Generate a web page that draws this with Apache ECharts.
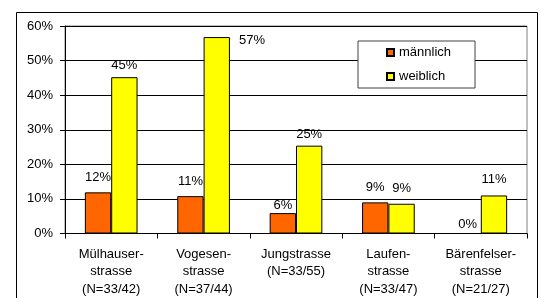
<!DOCTYPE html>
<html>
<head>
<meta charset="utf-8">
<script src="https://cdn.jsdelivr.net/npm/echarts@6/dist/echarts.min.js"></script>
<style>
  html, body { margin: 0; padding: 0; background: #fff; }
  #chart { width: 541px; height: 298px; }
</style>
</head>
<body>
<div id="chart"></div>
<script>
var strassen = [
  'Mülhauser-\nstrasse\n(N=33/42)',
  'Vogesen-\nstrasse\n(N=37/44)',
  'Jungstrasse\n(N=33/55)',
  'Laufen-\nstrasse\n(N=33/47)',
  'Bärenfelser-\nstrasse\n(N=21/27)'
]
var maennlich = [11.9, 10.8, 5.9, 9.0, 0]
var weiblich = [45.2, 56.8, 25.4, 8.6, 11.0]
var yTicks = [0, 10, 20, 30, 40, 50, 60]

var FONT = 'Liberation Sans, Arial, sans-serif'

// einzelne Beschriftungen wie im Original verschoben
function withLabels(values, extra) {
  return values.map(function (v, i) {
    var item = { value: v }
    if (extra[i]) {
      if (extra[i].label) item.label = extra[i].label
      if (extra[i].itemStyle) item.itemStyle = extra[i].itemStyle
    }
    return item
  })
}

var myChart = echarts.init(document.getElementById('chart'))
myChart.setOption({
  animation: false,
  textStyle: { fontFamily: FONT },
  graphic: [{
    type: 'rect',
    shape: { x: 16.5, y: 12.5, width: 521, height: 300 },
    style: { fill: 'none', stroke: '#000', lineWidth: 1 }
  }],
  grid: {
    left: 65,
    top: 26,
    right: 14,
    bottom: 61,
    show: true,
    borderColor: '#808080',
    borderWidth: 1
  },
  legend: {
    left: 358,
    top: 41,
    orient: 'vertical',
    backgroundColor: '#fff',
    borderColor: '#404040',
    borderWidth: 1,
    padding: [5, 24, 5, 28],
    itemGap: 11,
    itemWidth: 7,
    itemHeight: 7,
    icon: 'rect',
    textStyle: { fontSize: 13, color: '#000', fontFamily: FONT },
    data: ['männlich', 'weiblich']
  },
  xAxis: {
    type: 'category',
    data: strassen,
    axisLine: { lineStyle: { color: '#000', width: 1 } },
    axisTick: { show: true, length: 5, lineStyle: { color: '#000' } },
    axisLabel: {
      fontSize: 13,
      color: '#000',
      lineHeight: 17.5,
      margin: 12,
      interval: 0,
      fontFamily: FONT
    }
  },
  yAxis: {
    type: 'value',
    min: yTicks[0],
    max: yTicks[yTicks.length - 1],
    interval: 10,
    axisLine: { show: true, lineStyle: { color: '#000' } },
    axisTick: { show: true, length: 5, lineStyle: { color: '#000' } },
    axisLabel: {
      formatter: '{value}%',
      fontSize: 13,
      color: '#000',
      margin: 12,
      fontFamily: FONT
    },
    splitLine: { show: true, lineStyle: { color: '#000', width: 1 } }
  },
  series: [
    {
      name: 'männlich',
      type: 'bar',
      barGap: 0,
      barCategoryGap: '43%',
      itemStyle: { color: '#FF6600', borderColor: '#000', borderWidth: 1 },
      label: {
        show: true,
        position: 'top',
        distance: 8,
        fontSize: 13,
        color: '#000',
        fontFamily: FONT,
        formatter: function (p) { return Math.round(p.value) + '%' }
      },
      data: withLabels(maennlich, {
        2: { label: { distance: 1 } },
        4: { label: { distance: 3 }, itemStyle: { borderWidth: 0 } }
      })
    },
    {
      name: 'weiblich',
      type: 'bar',
      barGap: 0,
      barCategoryGap: '43%',
      itemStyle: { color: '#FFFF00', borderColor: '#000', borderWidth: 1 },
      label: {
        show: true,
        position: 'top',
        distance: 5,
        fontSize: 13,
        color: '#000',
        fontFamily: FONT,
        formatter: function (p) { return Math.round(p.value) + '%' }
      },
      data: withLabels(weiblich, {
        1: { label: { position: ['100%', 0], offset: [9, -3] } },
        3: { label: { distance: 9 } },
        4: { label: { distance: 10 } }
      })
    }
  ]
})
</script>
</body>
</html>
